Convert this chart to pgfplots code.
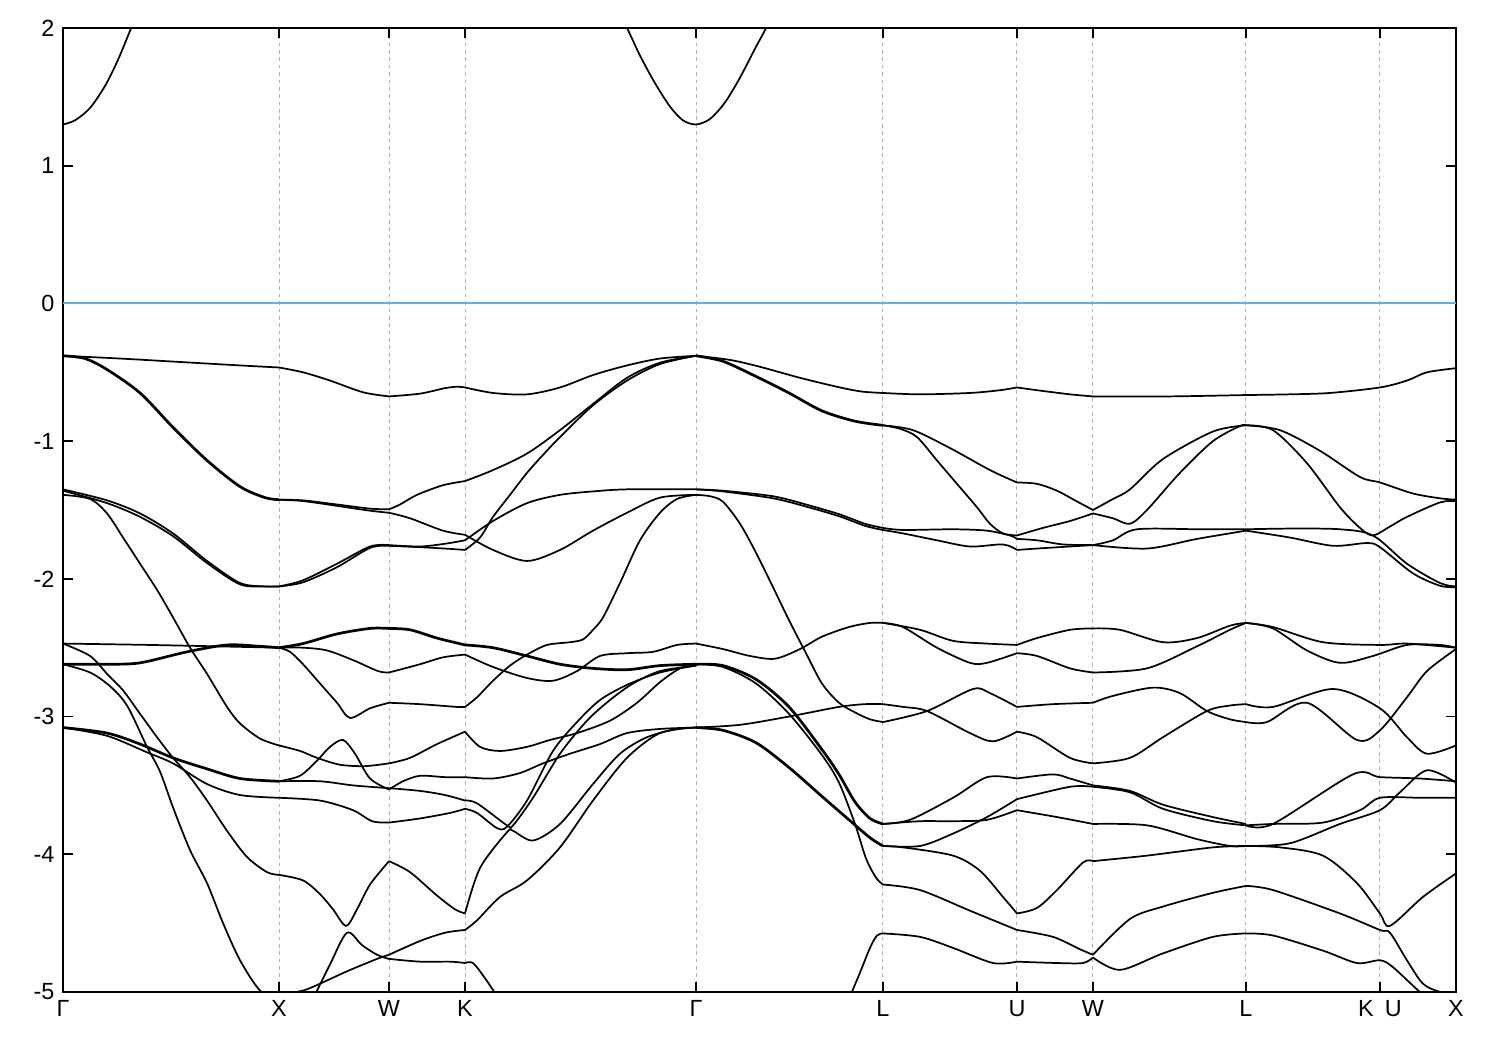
\documentclass[border=0pt]{standalone}
\usepackage{fontspec}
\setmainfont{Liberation Sans}
\usepackage{pgfplots}
\pgfplotsset{compat=1.18}
\definecolor{fermiblue}{RGB}{86,180,233}
\pgfplotsset{
  bd/.style={black, line width=0.7pt, smooth, tension=0.5, mark=none},
  bdt/.style={black, line width=1.1pt, smooth, tension=0.5, mark=none},
}
\newcommand\B[1]{\addplot[bd] coordinates {#1};}
\newcommand\T[1]{\addplot[bdt] coordinates {#1};}
\begin{document}
\begin{tikzpicture}
\begin{axis}[
  scale only axis, width=565.6pt, height=391.4pt,
  xmin=63, xmax=1456, ymin=-5, ymax=2,
  xtick={63,279,389,465,696,883,1017,1093,1246,1380,1456},
  xticklabels={Γ,X,W,K,Γ,L,U,W,L,K\hspace{4.5pt}U,X},
  ytick={-5,-4,-3,-2,-1,0,1,2},
  yticklabels={-5,-4,-3,-2,-1,0,1,2},
  tick align=inside, tick pos=both, major tick length=4pt,
  xmajorgrids, grid style={gray!60, dash pattern=on 1.5pt off 1.5pt, line width=0.4pt},
  axis line style={line width=0.7pt},
  tick style={line width=0.7pt, black},
  ticklabel style={font=\fontsize{9.5}{10}\selectfont},
  clip=true,
]
% Fermi level
\addplot[draw=fermiblue, line width=0.8pt, mark=none] coordinates {(63,0)(1456,0)};
% conduction band
\B{(63,1.30)(75,1.33)(90,1.42)(105,1.58)(118,1.77)(130,1.98)(140,2.15)}
\B{(615,2.15)(627,2.0)(640,1.80)(655,1.60)(670,1.43)(683,1.33)(696,1.30)(710,1.34)(725,1.46)(740,1.64)(755,1.85)(766,2.0)(775,2.15)}
% ---------- Gamma -> X
\B{(63,-0.38)(120,-0.40)(180,-0.425)(240,-0.45)(279,-0.465)}
\T{(63,-0.38)(85,-0.40)(107,-0.48)(140,-0.65)(173,-0.90)(207,-1.14)(240,-1.33)(265,-1.41)(279,-1.425)}
\B{(63,-1.35)(107,-1.43)(140,-1.525)(173,-1.67)(207,-1.87)(240,-2.03)(265,-2.055)(279,-2.055)}
\B{(63,-1.36)(107,-1.45)(140,-1.55)(173,-1.69)(207,-1.885)(240,-2.04)(265,-2.055)(279,-2.055)}
\B{(63,-1.39)(90,-1.42)(107,-1.525)(123,-1.70)(140,-1.89)(157,-2.08)(173,-2.28)(190,-2.50)(207,-2.69)(227,-2.93)(240,-3.05)(260,-3.16)(279,-3.21)}
\B{(63,-2.47)(150,-2.48)(279,-2.50)}
\T{(63,-2.62)(107,-2.62)(140,-2.61)(187,-2.53)(227,-2.48)(260,-2.49)(279,-2.50)}
\B{(63,-2.62)(90,-2.68)(110,-2.78)(127,-2.92)(147,-3.22)(160,-3.40)(173,-3.66)(190,-3.97)(207,-4.21)(223,-4.50)(240,-4.77)(260,-4.99)(279,-5.06)}
\B{(63,-2.47)(90,-2.56)(107,-2.69)(123,-2.81)(140,-2.98)(157,-3.15)(173,-3.30)(190,-3.44)(207,-3.61)(227,-3.83)(247,-4.02)(267,-4.13)(279,-4.15)}
\T{(63,-3.08)(107,-3.12)(140,-3.20)(173,-3.30)(207,-3.38)(240,-3.45)(279,-3.47)}
\B{(63,-3.08)(107,-3.14)(147,-3.26)(173,-3.34)(207,-3.49)(240,-3.57)(279,-3.59)}
% ---------- X -> W
\B{(279,-0.465)(303,-0.50)(330,-0.56)(363,-0.645)(389,-0.675)}
\B{(279,-1.425)(303,-1.43)(337,-1.46)(370,-1.49)(389,-1.495)}
\B{(279,-1.425)(303,-1.435)(337,-1.47)(370,-1.505)(389,-1.52)}
\B{(279,-2.055)(303,-2.01)(337,-1.89)(370,-1.765)(389,-1.755)}
\B{(279,-2.055)(303,-2.025)(337,-1.915)(370,-1.775)(389,-1.76)}
\T{(279,-2.50)(303,-2.47)(337,-2.40)(370,-2.36)(389,-2.36)}
\B{(279,-2.50)(303,-2.50)(327,-2.52)(353,-2.59)(378,-2.67)(389,-2.68)}
\B{(279,-2.50)(290,-2.53)(303,-2.62)(320,-2.76)(337,-2.90)(350,-3.01)(370,-2.94)(389,-2.90)}
\B{(279,-3.21)(300,-3.25)(317,-3.30)(340,-3.35)(365,-3.36)(389,-3.34)}
\B{(279,-3.47)(300,-3.43)(317,-3.32)(330,-3.22)(343,-3.17)(355,-3.27)(370,-3.45)(389,-3.53)}
\B{(279,-3.47)(320,-3.47)(353,-3.50)(389,-3.52)}
\B{(279,-3.59)(320,-3.61)(353,-3.68)(372,-3.76)(389,-3.77)}
\B{(279,-4.15)(303,-4.19)(320,-4.29)(333,-4.40)(346,-4.52)(357,-4.40)(370,-4.22)(389,-4.05)}
\B{(279,-5.02)(303,-4.99)(320,-4.94)(347,-4.85)(377,-4.76)(389,-4.73)}
\B{(313,-5.05)(330,-4.80)(347,-4.57)(362,-4.66)(377,-4.73)(389,-4.76)}
% ---------- W -> K
\B{(389,-0.675)(420,-0.655)(445,-0.615)(457,-0.605)(465,-0.61)}
\B{(389,-1.495)(400,-1.46)(417,-1.39)(443,-1.32)(465,-1.29)}
\B{(389,-1.52)(410,-1.56)(443,-1.65)(465,-1.68)}
\B{(389,-1.755)(420,-1.765)(445,-1.745)(465,-1.72)}
\B{(389,-1.76)(420,-1.77)(445,-1.78)(465,-1.79)}
\T{(389,-2.36)(410,-2.37)(437,-2.43)(465,-2.48)}
\B{(389,-2.68)(420,-2.62)(443,-2.57)(465,-2.55)}
\B{(389,-2.90)(420,-2.91)(457,-2.93)(465,-2.93)}
\B{(389,-3.34)(410,-3.30)(437,-3.20)(465,-3.11)}
\B{(389,-3.53)(403,-3.47)(420,-3.43)(445,-3.44)(465,-3.44)}
\B{(389,-3.52)(420,-3.54)(445,-3.57)(465,-3.61)}
\B{(389,-3.77)(420,-3.74)(450,-3.70)(465,-3.67)}
\B{(389,-4.05)(410,-4.13)(437,-4.30)(455,-4.40)(465,-4.43)}
\B{(389,-4.73)(420,-4.63)(445,-4.57)(465,-4.55)}
\B{(389,-4.76)(420,-4.78)(450,-4.78)(465,-4.79)}
% ---------- K -> Gamma
\B{(465,-0.61)(493,-0.65)(527,-0.66)(560,-0.61)(593,-0.52)(627,-0.45)(660,-0.40)(696,-0.38)}
\B{(465,-1.29)(493,-1.21)(527,-1.09)(560,-0.92)(593,-0.73)(627,-0.54)(660,-0.43)(696,-0.38)}
\B{(465,-1.79)(480,-1.70)(493,-1.55)(510,-1.39)(527,-1.23)(543,-1.10)(560,-0.97)(593,-0.74)(627,-0.56)(660,-0.44)(696,-0.38)}
\B{(465,-1.72)(493,-1.58)(527,-1.45)(560,-1.39)(593,-1.365)(627,-1.35)(696,-1.35)}
\B{(465,-1.68)(493,-1.79)(527,-1.87)(560,-1.79)(593,-1.65)(627,-1.52)(660,-1.41)(696,-1.39)}
\B{(465,-2.93)(477,-2.86)(493,-2.74)(510,-2.63)(527,-2.55)(547,-2.48)(570,-2.46)(583,-2.44)(593,-2.37)(603,-2.28)(620,-2.03)(640,-1.72)(660,-1.52)(677,-1.42)(696,-1.39)}
\T{(465,-2.48)(493,-2.50)(527,-2.56)(560,-2.62)(593,-2.65)(627,-2.66)(660,-2.63)(696,-2.62)}
\B{(465,-2.55)(493,-2.64)(527,-2.72)(553,-2.74)(577,-2.67)(600,-2.56)(627,-2.54)(653,-2.53)(677,-2.48)(696,-2.47)}
\B{(465,-3.11)(480,-3.22)(500,-3.25)(527,-3.22)(550,-3.17)(577,-3.12)(610,-3.03)(637,-2.90)(660,-2.75)(680,-2.65)(696,-2.62)}
\B{(465,-3.44)(493,-3.45)(520,-3.41)(543,-3.34)(570,-3.27)(600,-3.20)(627,-3.12)(660,-3.09)(696,-3.08)}
\B{(465,-3.61)(477,-3.63)(507,-3.79)(513,-3.79)(533,-3.59)(560,-3.27)(587,-3.03)(610,-2.88)(633,-2.76)(660,-2.67)(696,-2.63)}
\B{(465,-3.67)(477,-3.70)(497,-3.81)(507,-3.80)(527,-3.61)(553,-3.25)(577,-3.04)(600,-2.88)(627,-2.77)(660,-2.68)(696,-2.63)}
\B{(465,-4.43)(480,-4.10)(507,-3.84)(513,-3.83)(533,-3.90)(560,-3.78)(593,-3.49)(620,-3.27)(647,-3.15)(677,-3.09)(696,-3.08)}
\B{(465,-4.55)(477,-4.48)(500,-4.31)(527,-4.19)(560,-3.95)(593,-3.61)(627,-3.30)(660,-3.12)(696,-3.08)}
\B{(465,-4.79)(473,-4.79)(485,-4.90)(497,-5.03)}
% ---------- Gamma -> L
\B{(696,-0.38)(730,-0.41)(760,-0.46)(800,-0.54)(840,-0.61)(862,-0.64)(883,-0.65)}
\T{(696,-0.38)(723,-0.42)(756,-0.53)(789,-0.65)(822,-0.78)(855,-0.855)(883,-0.885)}
\B{(696,-1.35)(723,-1.36)(773,-1.40)(806,-1.46)(839,-1.53)(865,-1.60)(883,-1.63)}
\B{(696,-1.35)(723,-1.365)(773,-1.415)(806,-1.475)(839,-1.545)(865,-1.615)(883,-1.645)}
\B{(696,-1.39)(710,-1.40)(723,-1.44)(740,-1.60)(756,-1.81)(773,-2.06)(789,-2.30)(806,-2.54)(822,-2.76)(839,-2.90)(855,-2.97)(870,-3.02)(883,-3.04)}
\B{(696,-2.47)(723,-2.51)(750,-2.56)(775,-2.58)(800,-2.51)(822,-2.42)(849,-2.35)(870,-2.32)(883,-2.32)}
\T{(696,-2.62)(723,-2.63)(756,-2.73)(789,-2.93)(822,-3.24)(839,-3.42)(855,-3.62)(870,-3.74)(883,-3.78)}
\B{(696,-2.62)(723,-2.64)(756,-2.76)(789,-2.98)(822,-3.28)(839,-3.48)(855,-3.78)(866,-4.03)(876,-4.17)(883,-4.22)}
\B{(696,-3.08)(740,-3.06)(789,-3.00)(839,-2.93)(865,-2.91)(883,-2.91)}
\T{(696,-3.08)(723,-3.10)(756,-3.19)(789,-3.37)(822,-3.58)(849,-3.75)(870,-3.88)(883,-3.94)}
\B{(849,-5.05)(860,-4.86)(870,-4.68)(877,-4.59)(883,-4.575)}
% ---------- L -> U
\B{(883,-0.65)(920,-0.66)(970,-0.65)(1000,-0.63)(1017,-0.61)}
\B{(883,-0.885)(913,-0.92)(950,-1.05)(990,-1.21)(1017,-1.30)}
\B{(883,-0.885)(900,-0.91)(917,-0.97)(937,-1.14)(957,-1.31)(977,-1.48)(990,-1.60)(1003,-1.67)(1017,-1.685)}
\B{(883,-1.63)(903,-1.645)(953,-1.64)(987,-1.65)(1010,-1.685)(1017,-1.71)}
\B{(883,-1.645)(903,-1.67)(937,-1.72)(970,-1.765)(1003,-1.75)(1017,-1.79)}
\B{(883,-2.32)(920,-2.37)(953,-2.45)(987,-2.47)(1017,-2.48)}
\B{(883,-2.32)(903,-2.35)(937,-2.50)(970,-2.61)(987,-2.61)(1017,-2.54)}
\B{(883,-2.91)(903,-2.93)(927,-2.96)(970,-3.12)(993,-3.18)(1017,-3.11)}
\B{(883,-3.04)(927,-2.96)(973,-2.80)(990,-2.83)(1017,-2.93)}
\B{(883,-3.78)(910,-3.75)(953,-3.59)(987,-3.44)(1017,-3.45)}
\B{(883,-3.78)(920,-3.76)(953,-3.76)(987,-3.75)(1017,-3.68)}
\B{(883,-3.94)(920,-3.94)(953,-3.85)(987,-3.73)(1017,-3.60)}
\B{(883,-3.94)(903,-3.95)(953,-4.01)(980,-4.12)(1003,-4.31)(1017,-4.43)}
\B{(883,-4.22)(920,-4.26)(970,-4.41)(1017,-4.55)}
\B{(883,-4.575)(920,-4.60)(953,-4.68)(993,-4.79)(1017,-4.78)}
% ---------- U -> W
\B{(1017,-0.61)(1037,-0.63)(1070,-0.66)(1093,-0.675)}
\B{(1017,-1.30)(1037,-1.31)(1057,-1.36)(1075,-1.43)(1093,-1.50)}
\B{(1017,-1.685)(1043,-1.63)(1070,-1.58)(1093,-1.525)}
\B{(1017,-1.71)(1037,-1.72)(1063,-1.75)(1093,-1.755)}
\B{(1017,-1.79)(1037,-1.78)(1070,-1.765)(1093,-1.755)}
\B{(1017,-2.48)(1037,-2.43)(1070,-2.37)(1093,-2.36)}
\B{(1017,-2.54)(1037,-2.56)(1070,-2.65)(1093,-2.68)}
\B{(1017,-2.93)(1053,-2.91)(1093,-2.90)}
\B{(1017,-3.11)(1037,-3.15)(1070,-3.30)(1093,-3.34)}
\B{(1017,-3.45)(1053,-3.42)(1070,-3.45)(1093,-3.50)}
\B{(1017,-3.60)(1070,-3.51)(1093,-3.51)}
\B{(1017,-3.68)(1057,-3.73)(1093,-3.78)}
\B{(1017,-4.43)(1037,-4.39)(1057,-4.26)(1083,-4.06)(1093,-4.05)}
\B{(1017,-4.55)(1053,-4.60)(1080,-4.69)(1093,-4.73)}
\B{(1017,-4.78)(1057,-4.79)(1083,-4.79)(1093,-4.75)}
% ---------- W -> L
\B{(1093,-0.675)(1170,-0.675)(1246,-0.665)}
\B{(1093,-1.50)(1113,-1.42)(1130,-1.35)(1163,-1.13)(1213,-0.93)(1246,-0.885)}
\B{(1093,-1.525)(1113,-1.56)(1130,-1.60)(1147,-1.50)(1180,-1.23)(1213,-1.00)(1240,-0.89)(1246,-0.885)}
\B{(1093,-1.755)(1113,-1.72)(1137,-1.64)(1200,-1.64)(1246,-1.64)}
\B{(1093,-1.755)(1147,-1.78)(1197,-1.71)(1246,-1.65)}
\B{(1093,-2.36)(1120,-2.37)(1163,-2.46)(1197,-2.43)(1230,-2.34)(1246,-2.32)}
\B{(1093,-2.68)(1147,-2.65)(1197,-2.49)(1230,-2.37)(1246,-2.32)}
\B{(1093,-2.90)(1113,-2.85)(1153,-2.79)(1180,-2.83)(1207,-2.96)(1230,-3.02)(1246,-3.04)}
\B{(1093,-3.34)(1130,-3.30)(1163,-3.15)(1207,-2.96)(1230,-2.92)(1246,-2.91)}
\B{(1093,-3.50)(1130,-3.54)(1163,-3.64)(1213,-3.73)(1246,-3.78)}
\B{(1093,-3.51)(1130,-3.55)(1163,-3.67)(1213,-3.76)(1246,-3.79)}
\B{(1093,-3.78)(1147,-3.79)(1197,-3.89)(1230,-3.94)(1246,-3.94)}
\B{(1093,-4.05)(1147,-4.01)(1213,-3.95)(1246,-3.94)}
\B{(1093,-4.73)(1130,-4.47)(1163,-4.38)(1213,-4.28)(1246,-4.23)}
\B{(1093,-4.75)(1120,-4.84)(1163,-4.72)(1213,-4.60)(1246,-4.575)}
% ---------- L -> K|U -> X
\B{(1246,-0.665)(1290,-0.66)(1330,-0.65)(1380,-0.61)(1407,-0.56)(1427,-0.50)(1456,-0.47)}
\B{(1246,-0.885)(1280,-0.92)(1320,-1.07)(1360,-1.26)(1380,-1.30)(1413,-1.38)(1440,-1.415)(1456,-1.425)}
\B{(1246,-0.885)(1273,-0.92)(1307,-1.16)(1340,-1.48)(1360,-1.63)(1373,-1.685)(1390,-1.62)(1407,-1.55)(1440,-1.445)(1456,-1.435)}
\B{(1246,-1.64)(1290,-1.635)(1340,-1.64)(1373,-1.685)(1407,-1.89)(1440,-2.03)(1456,-2.055)}
\B{(1246,-1.65)(1290,-1.70)(1333,-1.76)(1367,-1.74)(1380,-1.77)(1413,-1.96)(1440,-2.05)(1456,-2.06)}
\B{(1246,-2.32)(1273,-2.35)(1323,-2.46)(1380,-2.48)(1407,-2.47)(1456,-2.50)}
\B{(1246,-2.32)(1273,-2.36)(1307,-2.52)(1340,-2.61)(1373,-2.56)(1407,-2.48)(1440,-2.48)(1456,-2.50)}
\B{(1246,-2.91)(1273,-2.93)(1333,-2.80)(1380,-2.94)(1407,-3.15)(1427,-3.27)(1456,-3.21)}
\B{(1246,-3.04)(1267,-3.04)(1307,-2.90)(1357,-3.17)(1380,-3.10)(1407,-2.86)(1427,-2.67)(1456,-2.51)}
\B{(1246,-3.79)(1273,-3.78)(1353,-3.42)(1380,-3.44)(1420,-3.45)(1456,-3.47)}
\B{(1246,-3.79)(1273,-3.78)(1323,-3.77)(1360,-3.68)(1380,-3.59)(1420,-3.59)(1456,-3.59)}
\B{(1246,-3.94)(1290,-3.92)(1340,-3.78)(1380,-3.68)(1400,-3.55)(1427,-3.39)(1456,-3.48)}
\B{(1246,-3.94)(1280,-3.95)(1323,-4.01)(1357,-4.21)(1380,-4.43)(1390,-4.52)(1423,-4.31)(1456,-4.14)}
\B{(1246,-4.23)(1273,-4.26)(1340,-4.43)(1380,-4.55)(1390,-4.57)(1407,-4.77)(1423,-4.94)(1440,-5.0)(1456,-5.02)}
\B{(1246,-4.575)(1273,-4.59)(1323,-4.70)(1357,-4.79)(1380,-4.77)(1393,-4.82)(1420,-5.0)(1440,-5.1)}
\end{axis}
\pgfresetboundingbox
\path[use as bounding box] ([xshift=-25.6pt,yshift=-23.5pt]current axis.south west) rectangle ([xshift=17.9pt,yshift=11.4pt]current axis.north east);
\end{tikzpicture}
\end{document}
